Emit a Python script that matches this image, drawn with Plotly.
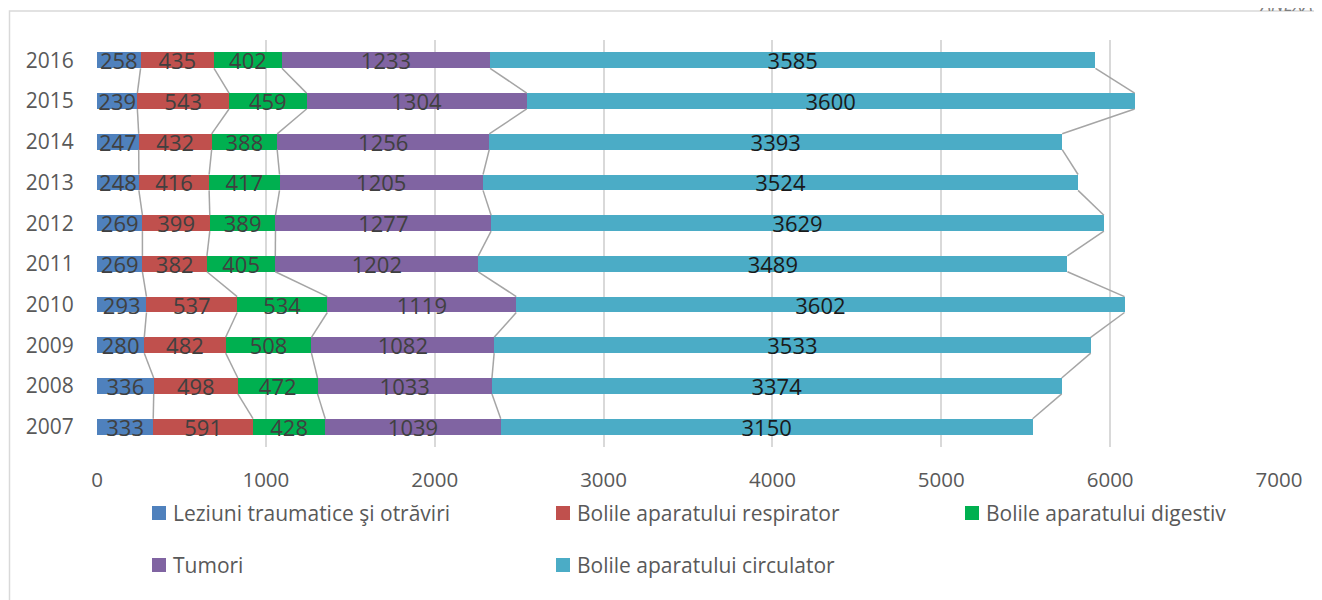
import plotly.graph_objects as go

years = [2007, 2008, 2009, 2010, 2011, 2012, 2013, 2014, 2015, 2016]
series_names = [
    "Leziuni traumatice şi otrăviri",
    "Bolile aparatului respirator",
    "Bolile aparatului digestiv",
    "Tumori",
    "Bolile aparatului circulator",
]
leziuni = [333, 336, 280, 293, 269, 269, 248, 247, 239, 258]
respirator = [591, 498, 482, 537, 382, 399, 416, 432, 543, 435]
digestiv = [428, 472, 508, 534, 405, 389, 417, 388, 459, 402]
tumori = [1039, 1033, 1082, 1119, 1202, 1277, 1205, 1256, 1304, 1233]
circulator = [3150, 3374, 3533, 3602, 3489, 3629, 3524, 3393, 3600, 3585]
x_ticks = [0, 1000, 2000, 3000, 4000, 5000, 6000, 7000]

series_values = [leziuni, respirator, digestiv, tumori, circulator]
colors = ["#4F81BD", "#C0504D", "#00B050", "#8064A2", "#4BACC6"]
label_colors = ["#404040", "#404040", "#404040", "#404040", "#1a1a1a"]

W, H = 1322, 600
OFF = 8  # page body margin
L, T = 97 - OFF, 40 - OFF
R = W - (1279 - OFF)
B = H - (447 - OFF)
pw, ph = W - L - R, H - T - B
def px2x(px):  # page pixel -> paper
    return (px - OFF - L) / pw
def px2y(py):
    return (H - B - (py - OFF)) / ph

BW = 0.39
pos = list(range(len(years)))
fig = go.Figure()

# series lines
cum = [0] * len(years)
for vals in series_values:
    cum = [c + v for c, v in zip(cum, vals)]
    xs, ys = [], []
    for i in range(1, len(years)):
        xs += [cum[i], cum[i - 1], None]
        ys += [i - BW / 2, i - 1 + BW / 2, None]
    fig.add_trace(go.Scatter(x=xs, y=ys, mode="lines",
                             line=dict(color="#A5A5A5", width=1.5),
                             showlegend=False, hoverinfo="skip"))

for name, vals, col, lc in zip(series_names, series_values, colors, label_colors):
    fig.add_trace(go.Bar(
        y=pos, x=vals, orientation="h", name=name,
        marker=dict(color=col, line=dict(width=0)),
        width=BW, text=[str(v) for v in vals], textposition="inside",
        insidetextanchor="middle", constraintext="none",
        textfont=dict(family="Open Sans", size=22, color=lc),
        showlegend=False,
    ))

fig.update_layout(
    barmode="stack",
    width=W, height=H,
    margin=dict(l=L, r=R, t=T, b=B),
    paper_bgcolor="white", plot_bgcolor="white",
    font=dict(family="Open Sans", color="#595959"),
    xaxis=dict(range=[0, 7000], tickvals=x_ticks, showgrid=True,
               gridcolor="#D9D9D9", gridwidth=1.5, zeroline=False,
               showline=False, ticks="outside", ticklen=14,
               tickcolor="rgba(0,0,0,0)", tickfont=dict(size=20.5, color="#595959")),
    yaxis=dict(range=[-0.5, len(years) - 0.5], tickvals=pos,
               ticktext=[str(y) for y in years], showgrid=False,
               zeroline=False, showline=False, ticks="outside", ticklen=18,
               tickcolor="rgba(0,0,0,0)", tickfont=dict(size=21, color="#595959")),
    showlegend=False,
)

# chart border
fig.add_shape(type="rect", xref="paper", yref="paper",
              x0=px2x(9.5), x1=px2x(1360), y0=px2y(640), y1=px2y(11),
              line=dict(color="#D9D9D9", width=1.5), fillcolor="rgba(0,0,0,0)",
              layer="below")

# manual legend
leg_pos = [(152, 513), (556, 513), (965, 513), (152, 565), (556, 565)]
for (lx, ly), name, col in zip(leg_pos, series_names, colors):
    fig.add_shape(type="rect", xref="paper", yref="paper",
                  x0=px2x(lx), x1=px2x(lx + 14), y0=px2y(ly + 7), y1=px2y(ly - 7),
                  fillcolor=col, line=dict(width=0))
    fig.add_annotation(xref="paper", yref="paper", x=px2x(lx + 19), y=px2y(ly),
                       xanchor="left", yanchor="middle", text=name, showarrow=False,
                       font=dict(family="Open Sans", size=21, color="#595959"))

# partially visible page header (cut at top edge as in the source)
fig.add_annotation(xref="paper", yref="paper", x=px2x(1257), y=px2y(18),
                   xanchor="left", yanchor="bottom", text="<i>ANEXA</i>", showarrow=False,
                   font=dict(family="Open Sans", size=18, color="#7f7f7f"))

fig.write_html("out.html")
